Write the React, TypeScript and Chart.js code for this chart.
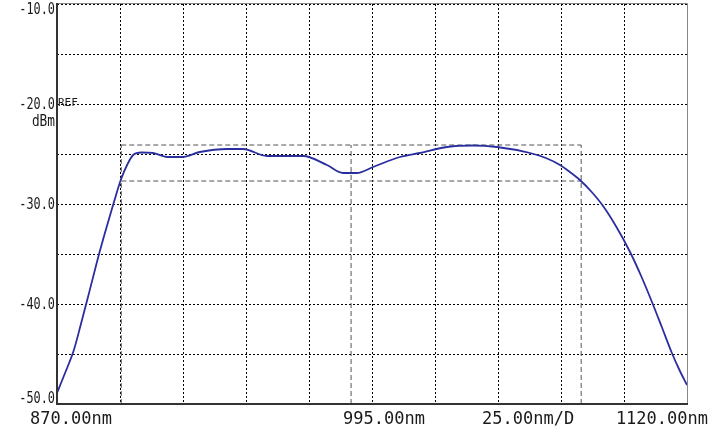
import { useEffect, useRef } from 'react';
import { Chart, registerables } from 'chart.js';
Chart.register(...registerables);

const waveNm = [870, 873.2, 876.7, 879.5, 882.3, 886.8, 889.7, 892.6, 895.3, 898.0, 900.2, 903.5, 908.1, 913.7, 919.6, 926.7, 937.5, 943.8, 953.3, 961.3, 967.6, 977.1, 983.5, 989.0, 995.4, 1006.1, 1014.0, 1024.8, 1035.1, 1044.6, 1057.7, 1064.0, 1069.6, 1073.5, 1077.5, 1082.0, 1086.7, 1092.0, 1097.4, 1101.8, 1106.1, 1110.0, 1114.0, 1117.0, 1120];
const powerDbm = [-48.9, -46.9, -44.6, -42.0, -39.3, -34.9, -32.3, -29.8, -27.6, -26.0, -25.1, -24.85, -24.9, -25.3, -25.3, -24.8, -24.5, -24.5, -25.2, -25.2, -25.2, -26.1, -26.9, -26.9, -26.3, -25.3, -24.9, -24.3, -24.15, -24.3, -24.9, -25.4, -26.1, -26.8, -27.6, -28.75, -30.2, -32.3, -34.8, -37.2, -39.8, -42.3, -44.9, -46.6, -48.1];

const yTickValues = [-10, -20, -30, -40, -50];
const yTickLabels = ['-10.0', '-20.0', '-30.0', '-40.0', '-50.0'];
const xLabelValues = [870, 995, 1045, 1120];
const xLabels = ['870.00nm', '995.00nm', '25.00nm/D', '1120.00nm'];
const refLabel = 'REF';
const unitLabel = 'dBm';

const markerX = [895.5, 986.7, 1078.0];
const markerY = [-24.1, -27.7];

const X_MIN = 870, X_MAX = 1120, X_STEP = 25;
const Y_MIN = -50, Y_MAX = -10, Y_STEP = 5;

const MONO = '"DejaVu Sans Mono", "Liberation Mono", monospace';

const textPlugin = {
  id: 'osaText',
  afterDraw(chart: any) {
    const ctx = chart.ctx;
    const { left, right, top, bottom } = chart.chartArea;
    const xs = chart.scales.x;
    const ys = chart.scales.y;
    ctx.save();
    // frame
    ctx.strokeStyle = '#888';
    ctx.lineWidth = 1;
    ctx.beginPath();
    ctx.moveTo(left, top - 0.5);
    ctx.lineTo(right + 0.5, top - 0.5);
    ctx.lineTo(right + 0.5, bottom);
    ctx.stroke();
    ctx.strokeStyle = '#333';
    ctx.lineWidth = 2;
    ctx.beginPath();
    ctx.moveTo(left, top - 1);
    ctx.lineTo(left, bottom);
    ctx.lineTo(right + 1, bottom);
    ctx.stroke();

    ctx.fillStyle = '#1a1a1a';
    // y labels
    ctx.font = `16px ${MONO}`;
    ctx.textAlign = 'right';
    ctx.textBaseline = 'middle';
    yTickValues.forEach((v, i) => {
      let py = ys.getPixelForValue(v);
      if (i === 0) py += 5;
      if (i === yTickValues.length - 1) py -= 6;
      ctx.save();
      ctx.translate(left - 2, py + 1);
      ctx.scale(0.74, 1);
      ctx.fillText(yTickLabels[i], 0, 0);
      ctx.restore();
    });
    const p20 = ys.getPixelForValue(-20);
    ctx.save();
    ctx.translate(left - 2, p20 + 18);
    ctx.scale(0.8, 1);
    ctx.fillText(unitLabel, 0, 0);
    ctx.restore();
    ctx.font = `11px ${MONO}`;
    ctx.textAlign = 'left';
    ctx.fillText(refLabel, left + 1, p20 - 1);

    // x labels
    ctx.font = `17px ${MONO}`;
    ctx.textBaseline = 'alphabetic';
    const base = bottom + 20;
    const offs = [-27, -29, -16];
    xLabelValues.forEach((v, i) => {
      const px = xs.getPixelForValue(v);
      if (i === xLabelValues.length - 1) {
        ctx.textAlign = 'right';
        ctx.fillText(xLabels[i], px + 21, base);
      } else {
        ctx.textAlign = 'left';
        ctx.fillText(xLabels[i], px + offs[i], base);
      }
    });
    ctx.restore();
  },
};

export default function App() {
  const ref = useRef<HTMLCanvasElement | null>(null);
  useEffect(() => {
    if (!ref.current) return;
    const markerStyle = {
      borderColor: '#555',
      borderWidth: 1,
      borderDash: [5, 3],
      pointRadius: 0,
      fill: false,
      tension: 0,
    };
    const markerSets = [
      { data: [{ x: markerX[0], y: markerY[0] }, { x: markerX[2], y: markerY[0] }] },
      { data: [{ x: markerX[0], y: markerY[1] }, { x: markerX[2], y: markerY[1] }] },
      ...markerX.map((mx) => ({ data: [{ x: mx, y: Y_MIN }, { x: mx, y: markerY[0] }] })),
    ].map((d) => ({ ...markerStyle, ...d, order: 2 }));
    const chart = new Chart(ref.current, {
      type: 'line',
      data: {
        datasets: [
          {
            data: waveNm.map((x, i) => ({ x, y: powerDbm[i] })),
            borderColor: '#2a2e9e',
            borderWidth: 1.8,
            pointRadius: 0,
            fill: false,
            cubicInterpolationMode: 'monotone',
            order: 1,
          },
          ...markerSets,
        ] as any,
      },
      options: {
        animation: false,
        responsive: false,
        layout: { padding: { top: 4, right: 23, left: 0, bottom: 0 } },
        plugins: { legend: { display: false }, tooltip: { enabled: false } },
        scales: {
          x: {
            type: 'linear',
            min: X_MIN,
            max: X_MAX,
            ticks: { display: false, stepSize: X_STEP },
            grid: { color: '#000', lineWidth: 1, drawTicks: false },
            border: { display: false, dash: [2, 2] },
            afterFit: (s: any) => { s.height = 22; },
          },
          y: {
            type: 'linear',
            min: Y_MIN,
            max: Y_MAX,
            ticks: { display: false, stepSize: Y_STEP },
            grid: { color: '#000', lineWidth: 1, drawTicks: false },
            border: { display: false, dash: [2, 2] },
            afterFit: (s: any) => { s.width = 57; },
          },
        },
      } as any,
      plugins: [textPlugin],
    });
    return () => chart.destroy();
  }, []);
  return (
    <div style={{ position: 'fixed', left: 0, top: 0, width: 710, height: 426, background: '#fff' }}>
      <canvas ref={ref} width={710} height={426} />
    </div>
  );
}
